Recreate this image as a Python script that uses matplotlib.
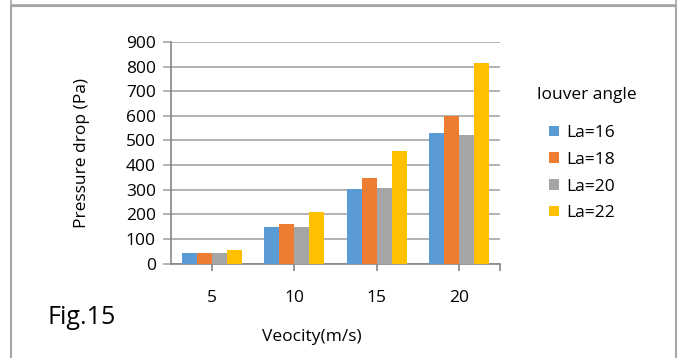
import matplotlib
matplotlib.use("Agg")
import matplotlib.pyplot as plt
import numpy as np
from matplotlib.patches import Rectangle

plt.rcParams['font.family'] = ['Open Sans', 'DejaVu Sans']

velocity = ["5", "10", "15", "20"]
la16 = [41, 148, 304, 532]
la18 = [42, 160, 346, 600]
la20 = [41, 148, 305, 521]
la22 = [54, 210, 458, 814]
series_names = ["La=16", "La=18", "La=20", "La=22"]
colors = ["#5B9BD5", "#ED7D31", "#A5A5A5", "#FFC000"]

fig = plt.figure(figsize=(6.78, 3.58), dpi=100)
ax = fig.add_axes([171 / 678, 1 - 263.5 / 358, (500 - 171) / 678, (263.5 - 42) / 358])

x = np.arange(len(velocity))
w = 0.182
for i, (vals, name, c) in enumerate(zip([la16, la18, la20, la22], series_names, colors)):
    ax.bar(x + (i - 1.5) * w, vals, width=w, color=c, label=name, zorder=3)

ax.set_xlim(-0.5, 3.5)
ax.set_ylim(0, 900)
ax.set_yticks(range(0, 1000, 100))
ax.yaxis.grid(True, color="#A6A6A6", linewidth=1.2, zorder=0)
ax.set_xticks(x)
ax.set_xticklabels(velocity)
ax.set_xticks([3.5], minor=True)
ax.tick_params(axis="y", length=6, color="#A6A6A6", width=1.2, labelsize=12.5, pad=5)
ax.tick_params(axis="x", which="both", length=5, color="#868686", width=1.2, labelsize=12.5, pad=14)
for side in ["top", "right"]:
    ax.spines[side].set_visible(False)
ax.spines["left"].set_color("#868686")
ax.spines["bottom"].set_color("#868686")
ax.spines["left"].set_linewidth(1.2)
ax.spines["bottom"].set_linewidth(1.2)

ax.set_ylabel("Pressure drop (Pa)", fontsize=12.5, labelpad=26)
fig.text(312 / 678, 1 - 337 / 358, "Veocity(m/s)", fontsize=12.5, ha="center", va="center")
fig.text(48 / 678, 1 - 318 / 358, "Fig.15", fontsize=18, ha="left", va="center")

# legend with its title placed separately
fig.text(537 / 678, 1 - 95 / 358, "louver angle", fontsize=12.5, ha="left", va="center")
ax.legend(loc="upper left", bbox_to_anchor=(549 / 678, 1 - 125 / 358),
          bbox_transform=fig.transFigure, frameon=False, fontsize=12.5,
          borderpad=0, borderaxespad=0,
          handlelength=0.55, handleheight=0.55, handletextpad=0.45, labelspacing=0.62)

# outer frame
fig.patches.append(Rectangle((11 / 678, -0.01), (676 - 11) / 678, 1 - 6 / 358 + 0.01,
                             transform=fig.transFigure, fill=False, edgecolor="#A6A6A6", linewidth=1.5))
fig.patches.append(Rectangle((11 / 678, 1 - 5 / 358), (676 - 11) / 678, 0.02,
                             transform=fig.transFigure, fill=False, edgecolor="#A6A6A6", linewidth=1.2))

fig.savefig("out.png", dpi=100)
